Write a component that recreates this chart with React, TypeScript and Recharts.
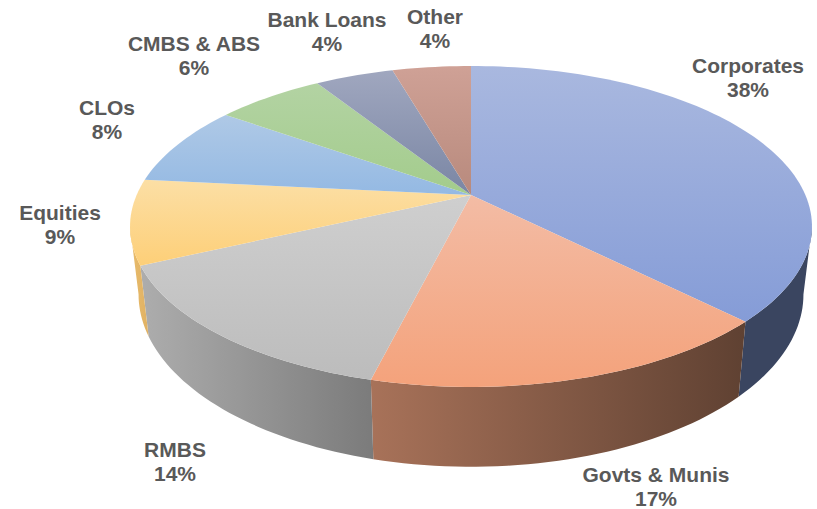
import React from 'react';
import { PieChart, Pie } from 'recharts';

const categories = ['Corporates', 'Govts & Munis', 'RMBS', 'Equities', 'CLOs', 'CMBS & ABS', 'Bank Loans', 'Other'];
const printedPercents = ['38%', '17%', '14%', '9%', '8%', '6%', '4%', '4%'];
const shares = [37.5, 16.4, 14.2, 8.5, 8.2, 6.2, 4.5, 4.5];

const topLight = ['#a9b8df', '#f3bca5', '#cfcfcf', '#fcdfa5', '#afc9e6', '#b3d3a3', '#a0a7bf', '#cfa196'];
const topDark = ['#859cd7', '#f4a27b', '#bcbcbc', '#fdcf78', '#94b9e3', '#a3cc8c', '#7a86a4', '#b88a7d'];
const wallLeft = ['#3a4560', '#a87259', '#adadad', '#e8bc6c', '#000', '#000', '#000', '#000'];
const wallRight = ['#3a4560', '#5f4132', '#7b7b7b', '#e0b163', '#000', '#000', '#000', '#000'];

// label centre x and first baseline
const labelSpots = [
  [748, 73],
  [656, 482],
  [175, 457],
  [60, 220],
  [107, 115],
  [194, 51],
  [327, 27],
  [435, 24],
];

const tableData = categories.map((name, i) => ({ name, value: shares[i] }));

const TILT = 0.196; // perspective of the disc
const WIDEN = 2.167; // disc width vs depth
const FRONT_START = 101.3; // where the rim turns away, degrees clockwise from top
const FRONT_END = 258.7;

// clockwise degrees from top -> point on the tilted rim
const rimPoint = (cx: number, cy: number, r: number, deg: number) => {
  const rad = (deg * Math.PI) / 180;
  const u = Math.sin(rad);
  const v = Math.cos(rad);
  const d = 1 + TILT * v;
  return { x: cx + (r * WIDEN * u) / d, y: cy - (r * v) / d };
};

// same point on the lower edge of the side wall
const lowerPoint = (cx: number, cy: number, r: number, deg: number) => {
  const p = rimPoint(cx, cy, r, deg);
  const drop = p.y - cy;
  return { x: cx + (p.x - cx) * 0.975, y: p.y + 65.5 + drop * 0.075 };
};

const arc = (from: number, to: number, fn: (deg: number) => { x: number; y: number }) => {
  const pts = [];
  const steps = Math.max(2, Math.ceil(Math.abs(to - from) / 1.5));
  for (let i = 0; i <= steps; i++) {
    const p = fn(from + ((to - from) * i) / steps);
    pts.push(`${p.x.toFixed(2)},${p.y.toFixed(2)}`);
  }
  return pts;
};

const Slice = (props: any) => {
  const { cx, cy, outerRadius, startAngle, endAngle, name, payload } = props;
  const idx = categories.indexOf(name ?? payload?.name);
  const from = 90 - startAngle;
  const to = 90 - endAngle;
  const upper = (d: number) => rimPoint(cx, cy, outerRadius, d);
  const lower = (d: number) => lowerPoint(cx, cy, outerRadius, d);

  const wallFrom = Math.max(from, FRONT_START);
  const wallTo = Math.min(to, FRONT_END);
  const hasWall = wallTo > wallFrom;
  const wallPts = hasWall
    ? [...arc(wallFrom, wallTo, upper), ...arc(wallTo, wallFrom, lower)].join(' ')
    : '';
  const topPts = [`${cx},${cy}`, ...arc(from, to, upper)].join(' ');

  return (
    <g>
      <defs>
        <linearGradient id={`top-${idx}`} x1="0" y1="0" x2="0" y2="1">
          <stop offset="0%" stopColor={topLight[idx]} />
          <stop offset="100%" stopColor={topDark[idx]} />
        </linearGradient>
        <linearGradient id={`wall-${idx}`} x1="0" y1="0" x2="1" y2="0">
          <stop offset="0%" stopColor={wallLeft[idx]} />
          <stop offset="100%" stopColor={wallRight[idx]} />
        </linearGradient>
      </defs>
      {hasWall && <polygon points={wallPts} fill={`url(#wall-${idx})`} />}
      <polygon points={topPts} fill={`url(#top-${idx})`} />
    </g>
  );
};

const SliceLabel = (props: any) => {
  const idx = categories.indexOf(props.name ?? props.payload?.name);
  const [x, y] = labelSpots[idx];
  return (
    <text x={x} y={y} textAnchor="middle" fill="#595959" fontFamily="'Liberation Sans', Arial, sans-serif" fontWeight="bold" fontSize={21}>
      <tspan x={x}>{categories[idx]}</tspan>
      <tspan x={x} dy={24}>{printedPercents[idx]}</tspan>
    </text>
  );
};

export default function App() {
  return (
    <div style={{ position: 'absolute', left: 0, top: 0, width: 817, height: 509, background: '#fff' }}>
      <PieChart width={817} height={509} margin={{ top: 0, right: 0, bottom: 0, left: 0 }}>
        <Pie
          data={tableData}
          dataKey="value"
          nameKey="name"
          cx={471}
          cy={195}
          innerRadius={0}
          outerRadius={154.3}
          startAngle={90}
          endAngle={-270}
          stroke="none"
          shape={Slice}
          label={SliceLabel}
          labelLine={false}
          isAnimationActive={false}
        />
      </PieChart>
    </div>
  );
}
